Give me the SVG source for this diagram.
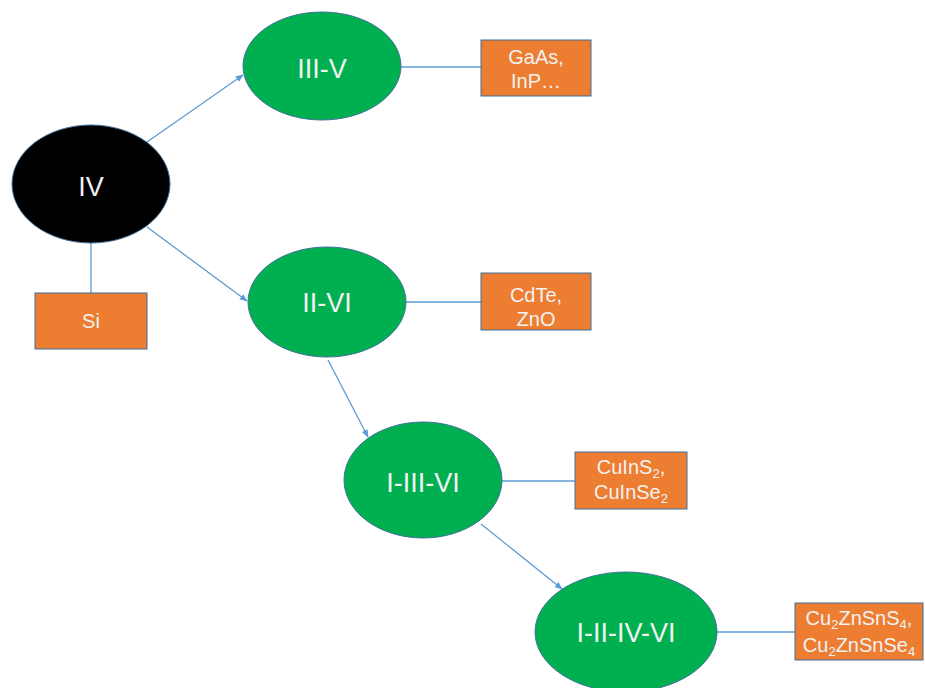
<svg xmlns="http://www.w3.org/2000/svg" width="925" height="688" viewBox="0 0 925 688">
  <style>
    .oval { stroke: #41719c; stroke-width: 1; }
    .group { fill: #00b050; }
    .root { fill: #000000; }
    .box { fill: #ed7d31; stroke: #41719c; stroke-width: 1; }
    .big { font-family: "Liberation Sans", Arial, sans-serif; font-size: 27px; fill: #f2f2f2; text-anchor: middle; }
    .small { font-family: "Liberation Sans", Arial, sans-serif; font-size: 20px; fill: #f2f2f2; text-anchor: middle; }
    .link { stroke: #5b9bd5; stroke-width: 1.3; fill: none; }
    .arrow { marker-end: url(#head); }
  </style>
  <defs>
    <marker id="head" viewBox="0 0 10 10" refX="9" refY="5" markerWidth="8" markerHeight="8" markerUnits="userSpaceOnUse" orient="auto">
      <path d="M0,1 L10,5 L0,9 z" fill="#5b9bd5"/>
    </marker>
  </defs>

  <g id="connectors">
    <line class="link arrow" x1="147" y1="142" x2="243" y2="75"/>
    <line class="link arrow" x1="147" y1="227" x2="247" y2="301"/>
    <line class="link" x1="91" y1="243" x2="91" y2="293"/>
    <line class="link" x1="401" y1="67" x2="481" y2="67"/>
    <line class="link" x1="405" y1="302" x2="481" y2="302"/>
    <line class="link arrow" x1="328" y1="360" x2="368" y2="437"/>
    <line class="link" x1="501" y1="481" x2="575" y2="481"/>
    <line class="link arrow" x1="481" y1="524" x2="562" y2="589"/>
    <line class="link" x1="717" y1="632" x2="795" y2="632"/>
  </g>

  <g id="node-iv">
    <ellipse class="oval root" cx="91" cy="184" rx="79" ry="59"/>
    <text class="big" x="91" y="196">IV</text>
  </g>
  <g id="node-si">
    <rect class="box" x="35" y="293" width="112" height="56"/>
    <text class="small" x="91" y="328">Si</text>
  </g>

  <g id="node-iii-v">
    <ellipse class="oval group" cx="322" cy="66" rx="79" ry="54"/>
    <text class="big" x="322" y="78">III-V</text>
  </g>
  <g id="node-gaas">
    <rect class="box" x="481" y="40" width="110" height="56"/>
    <text class="small" x="536" y="64">GaAs,</text>
    <text class="small" x="536" y="88">InP…</text>
  </g>

  <g id="node-ii-vi">
    <ellipse class="oval group" cx="327" cy="302" rx="79" ry="55"/>
    <text class="big" x="327" y="312">II-VI</text>
  </g>
  <g id="node-cdte">
    <rect class="box" x="481" y="273" width="110" height="57"/>
    <text class="small" x="536" y="302">CdTe,</text>
    <text class="small" x="536" y="326">ZnO</text>
  </g>

  <g id="node-i-iii-vi">
    <ellipse class="oval group" cx="423" cy="480" rx="79" ry="58"/>
    <text class="big" x="423" y="492">I-III-VI</text>
  </g>
  <g id="node-cuins">
    <rect class="box" x="575" y="452" width="112" height="57"/>
    <text class="small" x="631" y="474">CuInS<tspan font-size="13" dy="4">2</tspan><tspan dy="-4">,</tspan></text>
    <text class="small" x="631" y="499">CuInSe<tspan font-size="13" dy="4">2</tspan></text>
  </g>

  <g id="node-i-ii-iv-vi">
    <ellipse class="oval group" cx="626" cy="632" rx="91" ry="60"/>
    <text class="big" x="626" y="642">I-II-IV-VI</text>
  </g>
  <g id="node-czts">
    <rect class="box" x="795" y="603" width="128" height="57"/>
    <text class="small" x="859" y="625">Cu<tspan font-size="13" dy="4">2</tspan><tspan dy="-4">ZnSnS</tspan><tspan font-size="13" dy="4">4</tspan><tspan dy="-4">,</tspan></text>
    <text class="small" x="859" y="652">Cu<tspan font-size="13" dy="4">2</tspan><tspan dy="-4">ZnSnSe</tspan><tspan font-size="13" dy="4">4</tspan></text>
  </g>
</svg>
